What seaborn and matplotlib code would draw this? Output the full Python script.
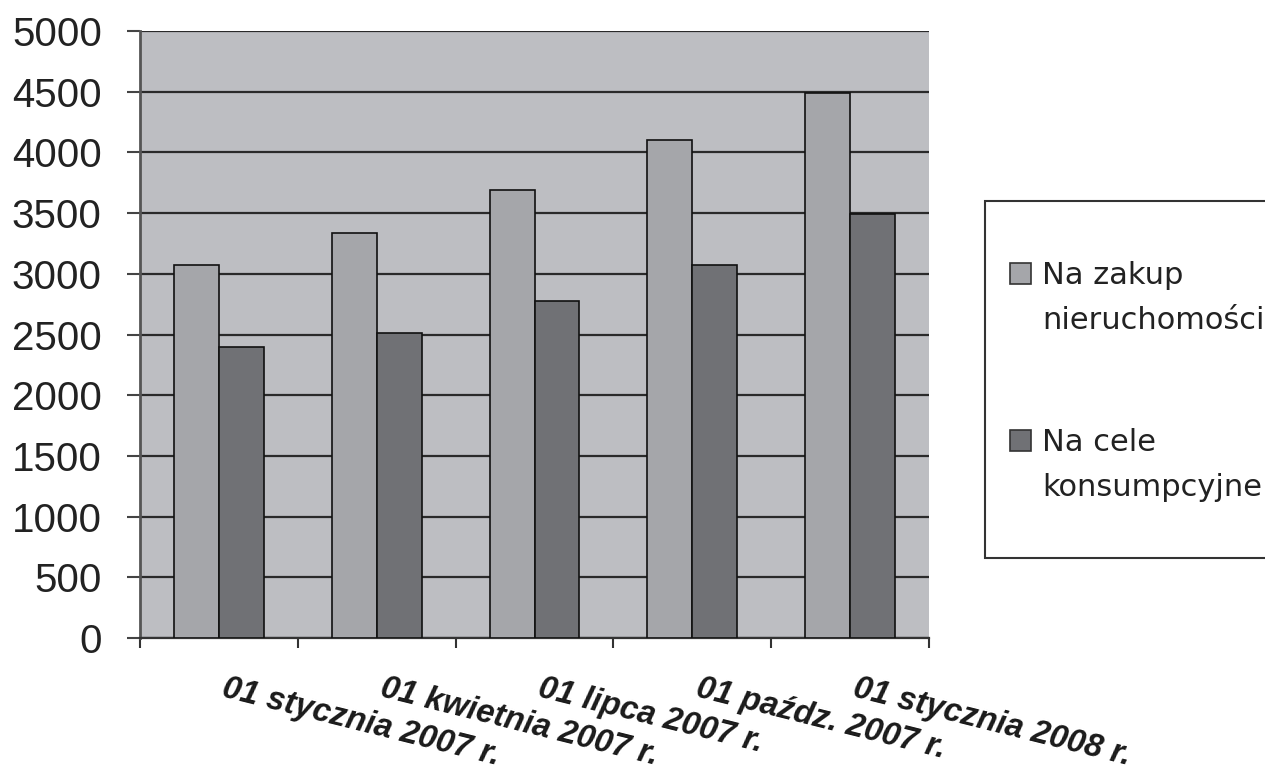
import matplotlib
matplotlib.use("Agg")
import matplotlib.pyplot as plt
from matplotlib.patches import Rectangle
from matplotlib.transforms import blended_transform_factory
import pandas as pd
import seaborn as sns

# --- data ---
dates = ["01 stycznia 2007 r.", "01 kwietnia 2007 r.", "01 lipca 2007 r.",
         "01 paźdz. 2007 r.", "01 stycznia 2008 r."]
series = ["Na zakup\nnieruchomości", "Na cele\nkonsumpcyjne"]
nieruchomosci = [3070, 3340, 3690, 4100, 4490]
konsumpcyjne = [2400, 2510, 2780, 3070, 3490]
y_ticks = [0, 500, 1000, 1500, 2000, 2500, 3000, 3500, 4000, 4500, 5000]

colors = ["#a5a6aa", "#707175"]
plot_bg = "#bdbec2"

df = pd.DataFrame({
    "data": dates * 2,
    "seria": [series[0]] * len(dates) + [series[1]] * len(dates),
    "kwota": nieruchomosci + konsumpcyjne,
})

sns.set_style("white")
plt.rcParams["font.family"] = ["Liberation Sans", "DejaVu Sans"]

W, H = 1265, 784
fig = plt.figure(figsize=(W / 100, H / 100), dpi=100)
ax = fig.add_axes([140 / W, 1 - 638 / H, (929 - 140) / W, (638 - 31) / H])
ax.set_facecolor(plot_bg)

sns.barplot(data=df, x="data", y="kwota", hue="seria", hue_order=series,
            order=dates, palette=colors, width=0.57, edgecolor="#111111",
            linewidth=1.2, saturation=1, legend=False, ax=ax, zorder=3)

# --- axes styling ---
ax.set_ylim(0, 5000)
ax.set_xlim(-0.5, len(dates) - 0.5)
ax.set_yticks(y_ticks)
ax.set_yticklabels([str(v) for v in y_ticks], fontsize=29, color="#222222")
ax.yaxis.grid(True, color="#2a2a2a", linewidth=1.6, zorder=1)
ax.set_axisbelow(True)
ax.tick_params(axis="y", direction="out", length=9.5, width=1.5,
               color="#444444", pad=18, left=True)

# category boundaries carry the tick marks, labels are drawn separately
ax.set_xticks([i - 0.5 for i in range(len(dates) + 1)])
ax.set_xticklabels([])
ax.tick_params(axis="x", direction="out", length=7.5, width=1.5,
               color="#333333", bottom=True)
ax.set_xlabel("")
ax.set_ylabel("")

for side in ["top", "right"]:
    ax.spines[side].set_visible(False)
ax.spines["left"].set_color("#555555")
ax.spines["left"].set_linewidth(2)
ax.spines["bottom"].set_color("#333333")
ax.spines["bottom"].set_linewidth(1.6)

trans = blended_transform_factory(ax.transData, ax.transAxes)
for i, lab in enumerate(dates):
    ax.text(i + 0.05, -0.058, lab, transform=trans, rotation=-14,
            rotation_mode="anchor", ha="left", va="top", fontsize=23.5,
            fontweight="bold", fontstyle="italic", color="#1a1a1a")

# --- legend box (drawn by hand so the swatch sits at the first line) ---
def px(x, y):
    return x / W, 1 - y / H

lx, ly = px(985, 558)
fig.patches.append(Rectangle((lx, ly), (1320 - 985) / W, (558 - 201) / H,
                             transform=fig.transFigure, facecolor="white",
                             edgecolor="#333333", linewidth=1.5))
for k, (name, col) in enumerate(zip(series, colors)):
    top = 263 + k * 167
    sx, sy = px(1010, top + 21)
    fig.patches.append(Rectangle((sx, sy), 21 / W, 21 / H,
                                 transform=fig.transFigure, facecolor=col,
                                 edgecolor="#333333", linewidth=1.2))
    for j, line in enumerate(name.split("\n")):
        tx, ty = px(1042, top + 21 + j * 45)
        fig.text(tx, ty, line, fontsize=22, family="DejaVu Sans",
                 color="#222222", va="baseline", ha="left")

fig.savefig("out.png", dpi=100, facecolor="white")
